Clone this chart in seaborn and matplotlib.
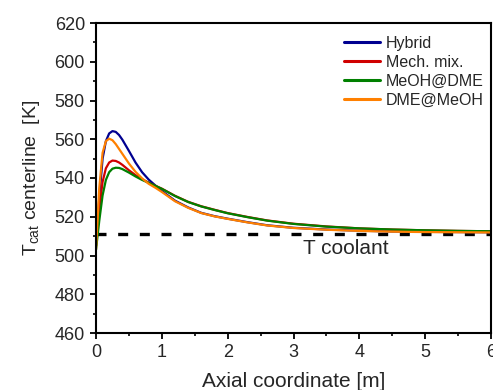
import numpy as np
import pandas as pd
import matplotlib
matplotlib.use("Agg")
import matplotlib.pyplot as plt
from matplotlib.ticker import MultipleLocator
import seaborn as sns

x_m = [0.0, 0.05, 0.1, 0.15, 0.2, 0.25, 0.3, 0.35, 0.4, 0.5, 0.6, 0.7, 0.8, 0.9,
       1.0, 1.2, 1.4, 1.6, 1.8, 2.0, 2.3, 2.6, 3.0, 3.5, 4.0, 4.5, 5.0, 5.5, 6.0]

hybrid = [505, 530, 550, 559, 563, 564.2, 563.8, 562.2, 559.8, 554, 548, 543, 539.2, 536.2,
          533.3, 528.3, 524.8, 522.0, 520.3, 519.0, 517.2, 515.6, 514.3, 513.4, 512.8, 512.4, 512.2, 512.1, 512.0]
mech_mix = [505, 524, 538, 545, 548, 549, 548.8, 548, 546.8, 544, 541.5, 539.4, 537.6, 536,
            534.5, 530.8, 527.7, 525.4, 523.6, 521.9, 519.9, 518.1, 516.4, 515.0, 514.0, 513.4, 513.0, 512.7, 512.5]
meoh_dme = [503, 518, 531, 539, 543, 544.8, 545.3, 545.2, 544.6, 542.8, 540.8, 539, 537.5, 536,
            534.4, 530.7, 527.6, 525.3, 523.5, 521.8, 519.8, 518.0, 516.3, 514.9, 514.0, 513.4, 513.0, 512.7, 512.5]
dme_meoh = [503, 535, 553, 559, 560.3, 559.5, 557.5, 555, 552.5, 547.5, 543.2, 539.8, 537, 535,
            532.8, 528.0, 524.6, 521.9, 520.2, 518.9, 517.1, 515.5, 514.2, 513.3, 512.7, 512.3, 512.1, 512.0, 511.9]

series_names = ["Hybrid", "Mech. mix.", "MeOH@DME", "DME@MeOH"]
series_values = [hybrid, mech_mix, meoh_dme, dme_meoh]
colors = ["#000090", "#d00000", "#008000", "#ff8000"]
t_coolant = 511

df = pd.concat([pd.DataFrame({"x": x_m, "T": v, "case": n})
                for n, v in zip(series_names, series_values)], ignore_index=True)

sns.set_theme(style="ticks")
plt.rcParams['font.family'] = ['Liberation Sans', 'DejaVu Sans']
plt.rcParams['mathtext.fontset'] = 'custom'
plt.rcParams['mathtext.rm'] = 'Liberation Sans'
plt.rcParams['mathtext.it'] = 'Liberation Sans:italic'

fig = plt.figure(figsize=(4.93, 3.90), dpi=100)
ax = fig.add_axes([96/493, 1-333/390, (491-96)/493, (333-23)/390])

sns.lineplot(data=df, x="x", y="T", hue="case", hue_order=series_names,
             palette=dict(zip(series_names, colors)), linewidth=1.6, ax=ax,
             sort=False, estimator=None)

ax.axhline(t_coolant, color="black", linewidth=2.4, dashes=(3, 3.5), zorder=1)
ax.text(3.8, 503.5, "T coolant", fontsize=15, ha="center", va="center")

ax.set_xlim(0, 6)
ax.set_ylim(460, 620)
ax.xaxis.set_major_locator(MultipleLocator(1))
ax.xaxis.set_minor_locator(MultipleLocator(0.5))
ax.yaxis.set_major_locator(MultipleLocator(20))
ax.yaxis.set_minor_locator(MultipleLocator(10))
ax.tick_params(which="major", length=4.5, width=1.3, labelsize=13, color="black")
ax.tick_params(which="minor", length=2.5, width=1.2, color="black")
for s in ax.spines.values():
    s.set_linewidth(1.5)
    s.set_color("black")

ax.set_xlabel("Axial coordinate [m]", fontsize=15, labelpad=8)
ax.set_ylabel(r"T$_\mathregular{cat}$ centerline  [K]", fontsize=14, labelpad=9)

leg = ax.legend(loc="upper right", frameon=False, fontsize=11.5, handlelength=2.3,
                handletextpad=0.35, labelspacing=0.25, bbox_to_anchor=(1.018, 1.005))
for line in leg.get_lines():
    line.set_linewidth(2.2)

fig.savefig("out.png", dpi=100)
